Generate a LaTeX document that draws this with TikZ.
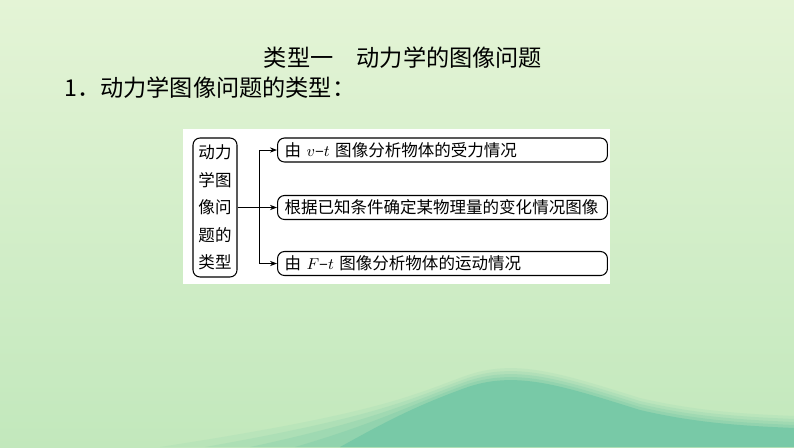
\documentclass[tikz,border=0pt]{standalone}
\usepackage{fontspec}
\setmainfont{Noto Sans CJK SC}
\usetikzlibrary{arrows.meta,positioning}
\definecolor{bgtop}{HTML}{E4F4D6}
\definecolor{bgbot}{HTML}{C2E8BC}
\definecolor{wave}{HTML}{78C9A7}
\tikzset{
  kindbox/.style={draw, rounded corners=4pt, line width=0.6pt, align=center,
    minimum width=0.88cm, minimum height=2.78cm, inner sep=0pt,
    font=\fontsize{9.4}{15.6}\selectfont},
  itembox/.style={draw, rounded corners=4pt, line width=0.6pt, anchor=west,
    text width=6.32cm, align=left, inner xsep=0.14cm, minimum height=0.48cm,
    inner ysep=0pt, font=\fontsize{9.4}{11}\selectfont},
  link/.style={line width=0.5pt, -{Stealth[length=4pt,width=3pt]}}
}
\begin{document}
\begin{tikzpicture}[x=0.02cm,y=-0.02cm]
    \useasboundingbox (0,0) rectangle (794,447);
    \shade[top color=bgtop, bottom color=bgbot] (0,0) rectangle (794,447);
    % soft wave at the bottom
    \foreach \d/\o in {12/0.12,9/0.18,6/0.25,3/0.35,0/1}{
      \fill[wave, opacity=\o] (340-\d*15,447) .. controls (380,425-\d) and (410,408-\d) .. (465,388-\d)
        .. controls (515,370-\d) and (560,385-\d) .. (640,410-\d)
        .. controls (700,424-\d) and (750,426-\d) .. (794,428-\d) -- (794,447) -- cycle;
    }

    \node (title) at (403,58) {\fontsize{13.2}{15}\selectfont 类型一\quad 动力学的图像问题};
    \node[anchor=west] (head) at (58,88) {\fontsize{13.2}{15}\selectfont 1．动力学图像问题的类型：};

    \fill[white] (183,129) rectangle (610,284);
    \node[kindbox] (kind) at (215,207.5) {动力\\学图\\像问\\题的\\类型};
    \node[itembox] (vt) at (277,150) {由 $v$–$t$ 图像分析物体的受力情况};
    \node[itembox] (known) at (277,207.5) {根据已知条件确定某物理量的变化情况图像};
    \node[itembox] (ft) at (277,263.5) {由 $F$–$t$ 图像分析物体的运动情况};

    \coordinate (split) at (259,207.5);
    \draw[line width=0.5pt] (kind.east) -- (split);
    \draw[link] (split) |- (vt.west);
    \draw[link] (split) -- (known.west);
    \draw[link] (split) |- (ft.west);
\end{tikzpicture}
\end{document}
